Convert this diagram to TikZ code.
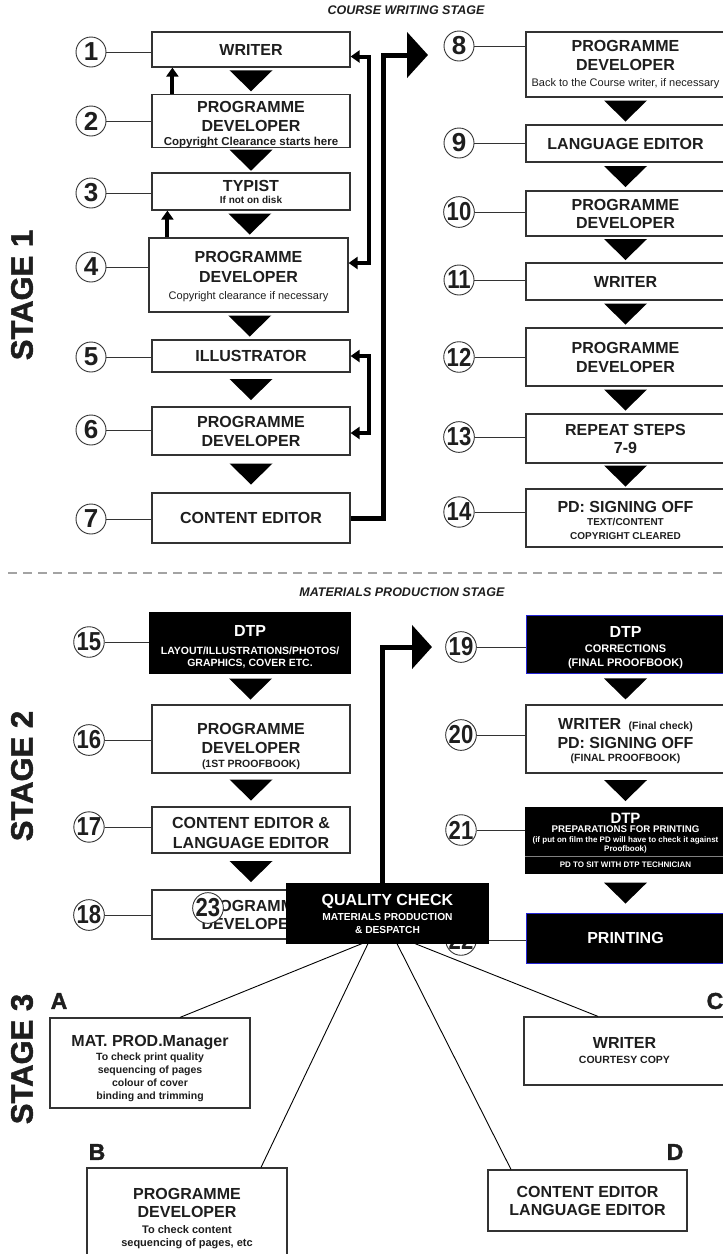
\documentclass[tikz,border=0pt]{standalone}
\usepackage{fontspec}
\setmainfont{Liberation Sans}
\newfontfamily\heavyfont{Liberation Sans Bold}[FakeBold=1.6]
\usepackage{graphicx}
\usetikzlibrary{arrows.meta,calc}
\definecolor{boxc}{HTML}{333333}
\definecolor{txt}{HTML}{1E1E1E}
\definecolor{dashc}{HTML}{A3A3A3}
\definecolor{blueb}{HTML}{2424D6}
\newcommand\mainF{\fontsize{16}{18}\selectfont\bfseries}
\newcommand\smallF{\fontsize{10.5}{12}\selectfont\bfseries}
\newcommand\regF{\fontsize{11}{12}\selectfont\mdseries}
\newcommand\tinyF{\fontsize{8}{9}\selectfont\bfseries}
\newcommand\twodig[1]{\scalebox{0.85}[1]{#1}}
\newcommand\hstrut[1]{\rule{0pt}{#1}}
\newcommand\downtri[2]{\fill[black] ($(#1.south)!0.5!(#2.north)$) ++(-21.5pt,10.5pt) -- ++(43pt,0pt) -- ++(-21.5pt,-21pt) -- cycle;}
\begin{document}
\begin{tikzpicture}[x=1pt,y=-1pt,
 box/.style={draw=boxc,line width=1.2pt,fill=white,text=txt,inner sep=0pt,align=center,font=\mainF},
 blk/.style={draw=black,line width=1.2pt,fill=black,text=white,inner sep=0pt,align=center,font=\mainF},
 blkb/.style={blk,draw=blueb,line width=1pt},
 num/.style={circle,draw=boxc,line width=0.9pt,fill=white,text=txt,minimum size=30pt,inner sep=0pt,font=\fontsize{26}{26}\selectfont\bfseries},
 conn/.style={draw=boxc,line width=0.9pt},
 thk/.style={draw=black,line width=4pt,line join=miter},
 sarr/.style={-{Triangle[width=12pt,length=9pt]}},
 darr/.style={{Triangle[width=12pt,length=9pt]}-{Triangle[width=12pt,length=9pt]}},
 big/.style={draw=black,line width=5pt,line join=miter,-{Triangle[width=45pt,length=21pt]}},
 letter/.style={font=\fontsize{23}{23}\selectfont\heavyfont,text=txt,inner sep=0pt},
 stage/.style={font=\fontsize{31}{31}\selectfont\heavyfont,text=txt,inner sep=0pt,rotate=90},
 title/.style={font=\fontsize{12.5}{14}\selectfont\bfseries\itshape,text=txt,inner sep=0pt},
 sline/.style={draw=black,line width=0.9pt},
]
\fill[white] (0,0) rectangle (723,1254);
\useasboundingbox (0,0) rectangle (723,1254);

% titles and stage labels
\node[title] (tt1) at (406,10) {COURSE WRITING STAGE};
\node[title] (tt2) at (402,592) {MATERIALS PRODUCTION STAGE};
\node[stage] (s1) at (22,295) {STAGE 1};
\node[stage] (s2) at (22,776) {STAGE 2};
\node[stage] (s3) at (22,1059) {STAGE 3};

% dashed separator
\draw[dashc,line width=2.5pt,dash pattern=on 9pt off 6pt] (8,573) -- (723,573);

% ---------- left column stage 1
\node[box,minimum width=198pt,minimum height=35pt] (b1) at (251,49.5) {\mainF WRITER};
\node[box,minimum width=198pt,minimum height=52pt] (b2) at (251,121) {\hstrut{17.5pt}\mainF PROGRAMME\\[1pt]\mainF DEVELOPER\\[-4pt]\fontsize{11.5}{12}\selectfont\bfseries Copyright Clearance starts here};
\node[box,minimum width=198pt,minimum height=37pt] (b3) at (251,191.5) {\mainF TYPIST\\[-6pt]\fontsize{10}{12}\selectfont\bfseries If not on disk};
\node[box,minimum width=199pt,minimum height=74pt] (b4) at (248.5,275) {\hstrut{14pt}\mainF PROGRAMME\\[2pt]\mainF DEVELOPER\\[-1pt]\regF Copyright clearance if necessary};
\node[box,minimum width=198pt,minimum height=32pt] (b5) at (251,356) {\mainF ILLUSTRATOR};
\node[box,minimum width=198pt,minimum height=48pt] (b6) at (251,431) {\mainF PROGRAMME\\[1pt]\mainF DEVELOPER};
\node[box,minimum width=198pt,minimum height=50pt] (b7) at (251,518) {\mainF CONTENT EDITOR};

\node[num] (c1) at (91,52) {1};
\node[num] (c2) at (91,121) {2};
\node[num] (c3) at (91,193) {3};
\node[num] (c4) at (91,267) {4};
\node[num] (c5) at (91,357) {5};
\node[num] (c6) at (91,430) {6};
\node[num] (c7) at (91,519) {7};
\foreach \i in {1,...,7} {\draw[conn] (c\i) -- (c\i -| b\i.west);}

\downtri{b1}{b2}
\downtri{b2}{b3}
\downtri{b3}{b4}
\downtri{b4}{b5}
\downtri{b5}{b6}
\downtri{b6}{b7}

\coordinate (u2) at ([xshift=21pt]b2.north west);
\draw[thk,sarr] (u2) -- (u2 |- b1.south);
\coordinate (u4) at ([xshift=19pt]b4.north west);
\draw[thk,sarr] (u4) -- (u4 |- b3.south);
\draw[thk,darr] ([yshift=-7pt]b1.east) -- ++(18pt,0pt) |- ([yshift=12pt]b4.east);
\draw[thk,darr] (b5.east) -- ++(18pt,0pt) |- ([yshift=-2pt]b6.east);

% ---------- right column stage 1
\node[box,minimum width=199pt,minimum height=65pt] (b8) at (625.5,64.5) {\mainF PROGRAMME\\[1pt]\mainF DEVELOPER\\[-2pt]\regF Back to the Course writer, if necessary};
\node[box,minimum width=199pt,minimum height=37pt] (b9) at (625.5,143.5) {\mainF LANGUAGE EDITOR};
\node[box,minimum width=199pt,minimum height=45pt] (b10) at (625.5,213.5) {\mainF PROGRAMME\\\mainF DEVELOPER};
\node[box,minimum width=199pt,minimum height=37pt] (b11) at (625.5,281.5) {\mainF WRITER};
\node[box,minimum width=199pt,minimum height=58pt] (b12) at (625.5,357) {\mainF PROGRAMME\\[1pt]\mainF DEVELOPER};
\node[box,minimum width=199pt,minimum height=49pt] (b13) at (625.5,438.5) {\mainF REPEAT STEPS\\\mainF 7-9};
\node[box,minimum width=199pt,minimum height=58pt] (b14) at (625.5,518) {\hstrut{16pt}\mainF PD: SIGNING OFF\\[-5pt]\fontsize{10}{12}\selectfont\bfseries TEXT/CONTENT\\[-4pt]\fontsize{10}{12}\selectfont\bfseries COPYRIGHT CLEARED};

\node[num] (c8) at (459,46) {8};
\node[num] (c9) at (459,143) {9};
\node[num] (c10) at (459,212) {\twodig{10}};
\node[num] (c11) at (459,280) {\twodig{11}};
\node[num] (c12) at (459,357) {\twodig{12}};
\node[num] (c13) at (459,437) {\twodig{13}};
\node[num] (c14) at (459,512) {\twodig{14}};
\foreach \i in {8,...,14} {\draw[conn] (c\i) -- (c\i -| b\i.west);}

\downtri{b8}{b9}
\downtri{b9}{b10}
\downtri{b10}{b11}
\downtri{b11}{b12}
\downtri{b12}{b13}
\downtri{b13}{b14}

\coordinate (t8) at (428,55);
\draw[big] (b7.east) -- ++(33pt,0pt) |- (t8);

% ---------- stage 2 left
\node[blk,minimum width=200pt,minimum height=60pt,font=\smallF] (b15) at (250,643) {\hstrut{19.5pt}\mainF DTP\\[6pt]\fontsize{10.5}{12}\selectfont\bfseries LAYOUT/ILLUSTRATIONS/PHOTOS/\\\fontsize{10.5}{12}\selectfont\bfseries GRAPHICS, COVER  ETC.};
\node[box,minimum width=198pt,minimum height=68pt] (b16) at (251,739) {\hstrut{25.5pt}\mainF PROGRAMME\\[1pt]\mainF DEVELOPER\\[-4pt]\fontsize{10.5}{12}\selectfont\bfseries (1ST PROOFBOOK)};
\node[box,minimum width=198pt,minimum height=46pt] (b17) at (251,830) {\hstrut{17.5pt}\mainF CONTENT EDITOR \&\\[2pt]\mainF LANGUAGE EDITOR};

% ---------- stage 2 right
\node[blkb,minimum width=199pt,minimum height=58pt,font=\smallF] (b19) at (625.5,644) {\hstrut{18.5pt}\mainF DTP\\[3pt]\fontsize{11}{12}\selectfont\bfseries CORRECTIONS\\[2pt]\fontsize{11}{12}\selectfont\bfseries (FINAL  PROOFBOOK)};
\node[box,minimum width=199pt,minimum height=68pt] (b20) at (625.5,739) {\hstrut{15pt}\mainF WRITER {\fontsize{10.5}{12}\selectfont\bfseries\ (Final check)}\\[1pt]\mainF PD: SIGNING OFF\\[-5pt]\fontsize{10.5}{12}\selectfont\bfseries (FINAL  PROOFBOOK)};
\node[blk,minimum width=199pt,minimum height=65pt,font=\tinyF] (b21) at (625.5,840.5) {\fontsize{15}{16}\selectfont\bfseries DTP\\\fontsize{9.7}{10}\selectfont\bfseries PREPARATIONS FOR PRINTING\\[1pt]\tinyF (if put on film the PD will have to check it against\\\tinyF Proofbook)\\[7pt]\tinyF PD TO SIT WITH DTP TECHNICIAN};
\draw[gray,line width=0.8pt] ([yshift=17pt]b21.south west) -- ([yshift=17pt]b21.south east);
\node[blkb,minimum width=199pt,minimum height=50pt] (b22) at (625.5,938) {\mainF PRINTING};

\node[num] (c15) at (89,642) {\twodig{15}};
\node[num] (c16) at (89,740) {\twodig{16}};
\node[num] (c17) at (89,827) {\twodig{17}};
\node[num] (c19) at (461,647) {\twodig{19}};
\node[num] (c20) at (461,735) {\twodig{20}};
\node[num] (c21) at (461,830) {\twodig{21}};
\foreach \i in {15,16,17,19,20,21} {\draw[conn] (c\i) -- (c\i -| b\i.west);}

\downtri{b15}{b16}
\downtri{b16}{b17}
\downtri{b19}{b20}
\downtri{b20}{b21}
\downtri{b21}{b22}

% box 18, circles under the quality check box
\node[box,minimum width=198pt,minimum height=49pt] (b18) at (251,914.5) {\mainF PROGRAMME\\\mainF DEVELOPER};
\downtri{b17}{b18}
\node[num] (c18) at (89,915) {\twodig{18}};
\draw[conn] (c18) -- (c18 -| b18.west);
\node[num] (c22) at (461,940) {\twodig{22}};
\draw[conn] (c22) -- (c22 -| b22.west);
\node[num] (c23) at (208,908) {\twodig{23}};

\node[blk,minimum width=201pt,minimum height=59pt,font=\fontsize{10.2}{13}\selectfont\bfseries] (qc) at (387.5,913.5) {\mainF QUALITY CHECK\\[2pt]\fontsize{10.2}{12}\selectfont\bfseries MATERIALS PRODUCTION\\\fontsize{10.2}{12}\selectfont\bfseries \& DESPATCH};

\coordinate (t19) at (432,647);
\coordinate (q0) at ([xshift=-5.5pt]qc.north);
\draw[big,-{Triangle[width=43pt,length=20pt]}] (q0) |- (t19);

% ---------- stage 3
\node[box,minimum width=200pt,minimum height=90pt,font=\fontsize{10.5}{13}\selectfont\bfseries] (bA) at (150,1063) {\hstrut{22.5pt}\mainF MAT. PROD.Manager\\[1pt]\fontsize{10.5}{13}\selectfont\bfseries To check print quality\\\fontsize{10.5}{13}\selectfont\bfseries sequencing of pages\\\fontsize{10.5}{13}\selectfont\bfseries colour of cover\\\fontsize{10.5}{13}\selectfont\bfseries binding and trimming};
\node[box,minimum width=201pt,minimum height=68pt,font=\fontsize{10.5}{13}\selectfont\bfseries] (bC) at (624.5,1051) {\mainF WRITER\\[2pt]\fontsize{10.5}{13}\selectfont\bfseries COURTESY COPY};
\node[box,minimum width=200pt,minimum height=92pt] (bB) at (187,1214) {\hstrut{19.5pt}\mainF PROGRAMME\\\mainF DEVELOPER\\[-2pt]\fontsize{11}{12}\selectfont\bfseries To check content\\[-5pt]\fontsize{11}{12}\selectfont\bfseries sequencing of pages, etc};
\node[box,minimum width=199pt,minimum height=61pt] (bD) at (587.5,1200.5) {\mainF CONTENT EDITOR\\\mainF LANGUAGE EDITOR};

\node[letter] (lA) at (59,1001) {A};
\node[letter] (lB) at (97,1152) {B};
\node[letter] (lC) at (715,1001) {C};
\node[letter] (lD) at (675,1152) {D};

\draw[sline] ([xshift=-25.5pt]qc.south) -- ([xshift=30pt]bA.north);
\draw[sline] ([xshift=-19.5pt]qc.south) -- ([xshift=74pt]bB.north);
\draw[sline] ([xshift=27.5pt]qc.south) -- ([xshift=-26.5pt]bC.north);
\draw[sline] ([xshift=9.5pt]qc.south) -- ([xshift=-76.5pt]bD.north);
\end{tikzpicture}
\end{document}
